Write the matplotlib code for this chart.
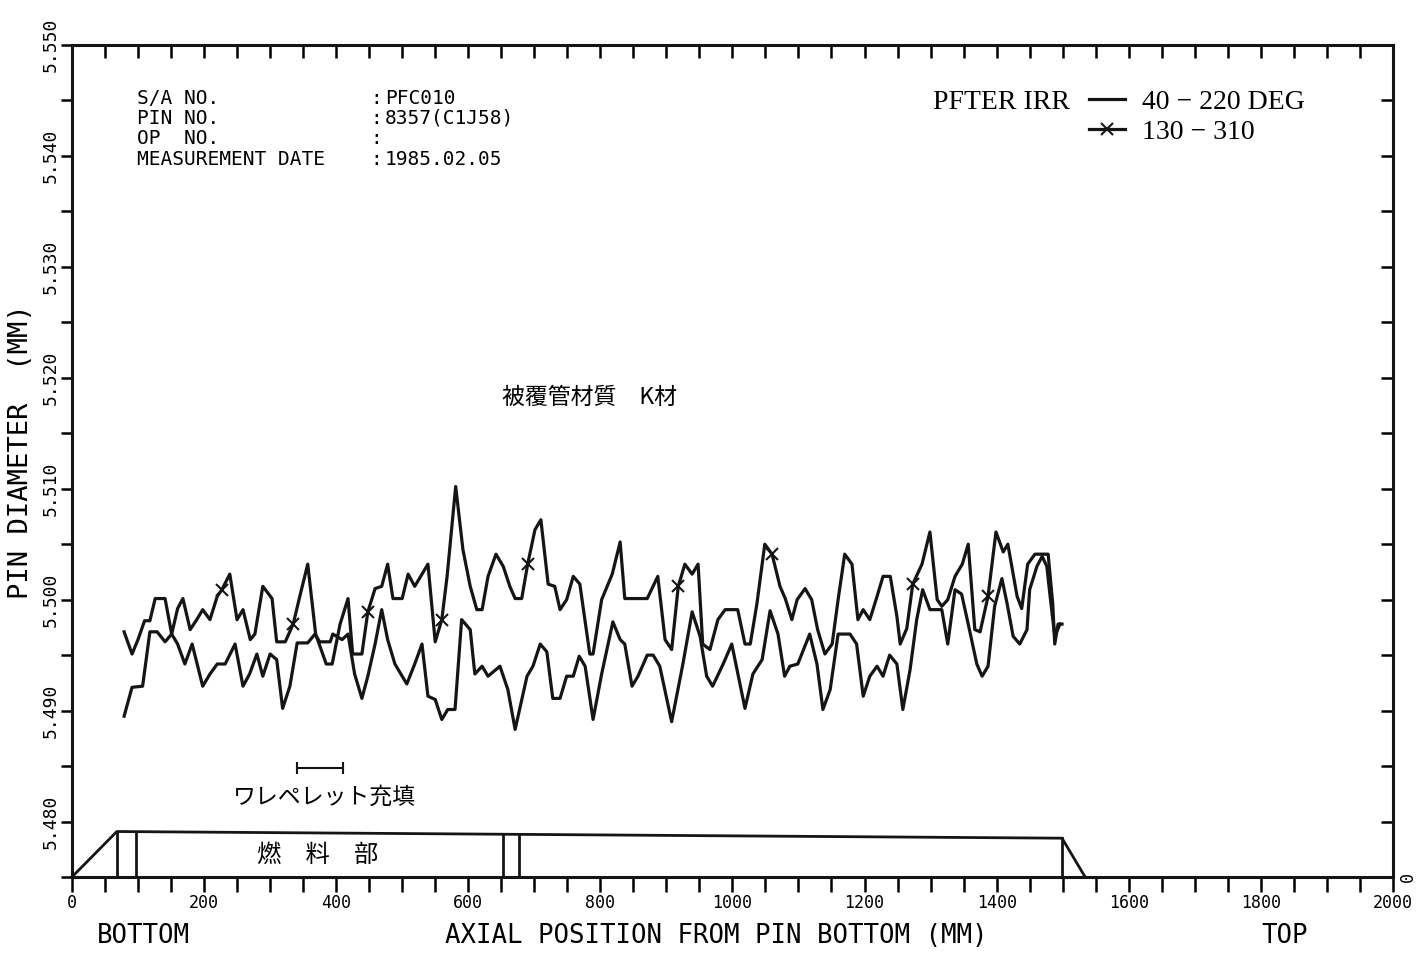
import numpy as np
import matplotlib
matplotlib.use("Agg")
import matplotlib.pyplot as plt
from matplotlib.ticker import MultipleLocator

# axial position (mm) / pin diameter (mm), 40-220 DEG trace
pos_40 = [79, 91, 107, 118, 129, 141, 151, 160, 171, 182,
          198, 209, 220, 232, 247, 259, 269, 280, 289, 300,
          310, 319, 330, 341, 357, 368, 375, 391, 395, 409,
          418, 428, 439, 448, 459, 469, 478, 489, 507, 519,
          530, 539, 550, 560, 569, 580, 590, 603, 610, 621,
          630, 648, 660, 671, 689, 698, 709, 719, 728, 739,
          749, 759, 768, 777, 789, 802, 819, 830, 837, 848,
          857, 871, 880, 890, 908, 925, 939, 951, 961, 970,
          986, 999, 1019, 1031, 1045, 1057, 1069, 1079, 1087, 1099,
          1117, 1128, 1137, 1148, 1160, 1178, 1188, 1198, 1208, 1219,
          1228, 1238, 1249, 1258, 1269, 1279, 1288, 1299, 1317, 1326,
          1337, 1347, 1357, 1370, 1378, 1387, 1397, 1408, 1416, 1425,
          1435, 1446, 1450, 1461, 1469, 1476, 1481, 1488, 1496]
dia_40 = [5.4895, 5.4921, 5.4922, 5.4971, 5.4971, 5.4962, 5.4969, 5.4960, 5.4942, 5.4960,
          5.4922, 5.4933, 5.4942, 5.4942, 5.4960, 5.4922, 5.4933, 5.4951, 5.4931, 5.4951,
          5.4946, 5.4902, 5.4922, 5.4961, 5.4961, 5.4969, 5.4962, 5.4962, 5.4969, 5.4964,
          5.4969, 5.4933, 5.4911, 5.4931, 5.4960, 5.4991, 5.4964, 5.4942, 5.4924, 5.4942,
          5.4960, 5.4913, 5.4910, 5.4892, 5.4901, 5.4901, 5.4982, 5.4973, 5.4933, 5.4940,
          5.4931, 5.4940, 5.4919, 5.4883, 5.4931, 5.4940, 5.4960, 5.4953, 5.4911, 5.4911,
          5.4931, 5.4931, 5.4949, 5.4940, 5.4892, 5.4933, 5.4980, 5.4964, 5.4960, 5.4922,
          5.4931, 5.4950, 5.4950, 5.4940, 5.4890, 5.4942, 5.4989, 5.4967, 5.4931, 5.4922,
          5.4942, 5.4960, 5.4902, 5.4933, 5.4946, 5.4990, 5.4969, 5.4931, 5.4940, 5.4942,
          5.4969, 5.4942, 5.4901, 5.4919, 5.4969, 5.4969, 5.4960, 5.4913, 5.4931, 5.4940,
          5.4931, 5.4950, 5.4942, 5.4901, 5.4937, 5.4982, 5.5009, 5.4991, 5.4991, 5.4960,
          5.5009, 5.5005, 5.4978, 5.4942, 5.4931, 5.4940, 5.4994, 5.5019, 5.4996, 5.4967,
          5.4960, 5.4973, 5.5009, 5.5030, 5.5039, 5.5030, 5.5003, 5.4967, 5.4978]

# 130-310 DEG trace (drawn with x marks)
pos_130 = [79, 91, 100, 110, 118, 126, 141, 151, 160, 168,
           179, 189, 198, 209, 220, 227, 239, 250, 259, 270,
           277, 289, 303, 310, 323, 335, 345, 357, 369, 385,
           394, 406, 418, 425, 439, 448, 459, 469, 478, 486,
           500, 509, 519, 539, 550, 560, 568, 581, 592, 603,
           613, 621, 630, 642, 653, 663, 671, 681, 690, 701,
           710, 721, 731, 739, 749, 759, 769, 784, 789, 802,
           818, 830, 837, 871, 887, 898, 908, 918, 928, 939,
           948, 955, 966, 978, 989, 1008, 1019, 1027, 1037, 1049,
           1060, 1072, 1080, 1090, 1098, 1110, 1120, 1129, 1140, 1151,
           1160, 1170, 1181, 1190, 1198, 1208, 1219, 1228, 1239, 1249,
           1254, 1264, 1273, 1287, 1299, 1310, 1317, 1326, 1337, 1348,
           1357, 1367, 1375, 1387, 1399, 1410, 1417, 1431, 1438, 1447,
           1458, 1478, 1485, 1488, 1493, 1499]
dia_130 = [5.4971, 5.4951, 5.4964, 5.4981, 5.4981, 5.5001, 5.5001, 5.4969, 5.4992, 5.5001,
           5.4973, 5.4982, 5.4991, 5.4982, 5.5003, 5.5009, 5.5023, 5.4982, 5.4991, 5.4964,
           5.4969, 5.5012, 5.5001, 5.4962, 5.4962, 5.4978, 5.5003, 5.5032, 5.4969, 5.4942,
           5.4942, 5.4978, 5.5001, 5.4951, 5.4951, 5.4989, 5.5010, 5.5012, 5.5032, 5.5001,
           5.5001, 5.5023, 5.5012, 5.5032, 5.4962, 5.4982, 5.5021, 5.5102, 5.5045, 5.5012,
           5.4991, 5.4991, 5.5021, 5.5041, 5.5030, 5.5012, 5.5001, 5.5001, 5.5032, 5.5063,
           5.5072, 5.5014, 5.5012, 5.4991, 5.5000, 5.5021, 5.5014, 5.4951, 5.4951, 5.5000,
           5.5023, 5.5052, 5.5001, 5.5001, 5.5021, 5.4964, 5.4955, 5.5012, 5.5032, 5.5023,
           5.5032, 5.4960, 5.4955, 5.4982, 5.4991, 5.4991, 5.4960, 5.4960, 5.4996, 5.5050,
           5.5041, 5.5012, 5.5001, 5.4982, 5.5000, 5.5010, 5.5000, 5.4973, 5.4951, 5.4960,
           5.5000, 5.5041, 5.5032, 5.4982, 5.4991, 5.4982, 5.5003, 5.5021, 5.5021, 5.4985,
           5.4960, 5.4974, 5.5014, 5.5032, 5.5061, 5.5000, 5.4994, 5.5000, 5.5021, 5.5032,
           5.5050, 5.4973, 5.4971, 5.5003, 5.5061, 5.5043, 5.5050, 5.5003, 5.4992, 5.5032,
           5.5041, 5.5041, 5.4996, 5.4960, 5.4978, 5.4978]
mark_pos_130 = [224, 334, 451, 560, 693, 921, 1064, 1279, 1387]

# pin outline sketch along the bottom
pin_x = [0, 68, 1499, 1534]
pin_y = [5.475, 5.4791, 5.4785, 5.475]
pin_walls = [68, 97, 653, 677, 1499]
pellet_span = [341, 410]
pellet_y = 5.4848

info_keys = ["S/A NO.", "PIN NO.", "OP  NO.", "MEASUREMENT DATE"]
info_vals = ["PFC010", "8357(C1J58)", "", "1985.02.05"]

mono = "DejaVu Sans Mono"
cjk = ["Noto Sans CJK JP", "DejaVu Sans"]
serif = "Liberation Serif"
ink = "#151515"

fig = plt.figure(figsize=(14.16, 9.61), dpi=100)
ax = fig.add_axes([0.0508, 0.0874, 0.9329, 0.8658])

l40, = ax.plot(pos_40, dia_40, color=ink, lw=2.3)
marks = [int(np.argmin(np.abs(np.array(pos_130) - m))) for m in mark_pos_130]
l130, = ax.plot(pos_130, dia_130, color=ink, lw=2.3, marker="x", ms=9, mew=1.5,
                markevery=marks)

# fuel pin sketch
ax.plot(pin_x, pin_y, color=ink, lw=2.0, clip_on=False)
for w in pin_walls:
    top = np.interp(w, pin_x[1:3], pin_y[1:3])
    ax.plot([w, w], [pin_y[0], top], color=ink, lw=2.0)
ax.text(372, 5.4770, "燃　料　部", ha="center", va="center", fontsize=17.5, family=cjk)

ax.plot(pellet_span, [pellet_y, pellet_y], color=ink, lw=1.5, marker="|", ms=9, mew=1.5)
ax.text(383, 5.4822, "ワレペレット充填", ha="center", va="center", fontsize=16.5, family=cjk)
ax.text(784, 5.5182, "被覆管材質　K材", ha="center", va="center", fontsize=16.5, family=cjk)

# header block
rows_y = [0.936, 0.912, 0.888, 0.862]
for k, v, yy in zip(info_keys, info_vals, rows_y):
    ax.text(0.049, yy, k, transform=ax.transAxes, fontsize=14, family=mono, va="center")
    ax.text(0.2256, yy, ":", transform=ax.transAxes, fontsize=14, family=mono, va="center")
    ax.text(0.237, yy, v, transform=ax.transAxes, fontsize=14, family=mono, va="center")

# legend
ax.text(0.652, 0.931, "PFTER IRR", transform=ax.transAxes, fontsize=20,
        family=serif, va="center")
ax.legend([l40, l130], ["40 − 220 DEG", "130 − 310"], loc="upper left",
          bbox_to_anchor=(0.770, 0.947), frameon=False, numpoints=1,
          prop={"family": serif, "size": 20}, handlelength=1.3,
          handletextpad=0.6, labelspacing=0.17, borderpad=0, borderaxespad=0)

ax.set_xlim(0, 2000)
ax.set_ylim(5.475, 5.550)
ax.set_xticks(np.arange(0, 2001, 200))
ax.xaxis.set_minor_locator(MultipleLocator(50))
ax.set_yticks(np.arange(5.48, 5.5501, 0.01))
ax.set_yticklabels(["%.3f" % v for v in np.arange(5.48, 5.5501, 0.01)])
ax.yaxis.set_minor_locator(MultipleLocator(0.005))
ax.tick_params(axis="x", which="both", direction="out", length=11, width=1.8,
               labelsize=12, pad=1)
ax.tick_params(axis="y", which="both", direction="out", length=8, width=1.8,
               labelsize=13, labelrotation=90, pad=1)
for lab in ax.get_xticklabels() + ax.get_yticklabels():
    lab.set_family(mono)
for lab in ax.get_yticklabels():
    lab.set_va("center")
for s in ax.spines.values():
    s.set_linewidth(2.2)
    s.set_color(ink)

top = ax.secondary_xaxis("top")
top.set_xticks(np.arange(0, 2001, 200))
top.xaxis.set_minor_locator(MultipleLocator(50))
top.tick_params(which="both", direction="in", length=9, width=1.8, labeltop=False)
right = ax.secondary_yaxis("right")
right.set_yticks(np.arange(5.48, 5.5501, 0.01))
right.yaxis.set_minor_locator(MultipleLocator(0.005))
right.tick_params(which="both", direction="in", length=9, width=1.8, labelright=False)

fig.text(0.994, 0.0874, "0", rotation=90, fontsize=12, family=mono, ha="center", va="center")
fig.text(0.015, 0.530, "PIN DIAMETER  (MM)", rotation=90, fontsize=19.5, family=mono,
         ha="center", va="center")
fig.text(0.506, 0.026, "AXIAL POSITION FROM PIN BOTTOM (MM)", fontsize=18.5, family=mono,
         ha="center", va="center")
fig.text(0.101, 0.026, "BOTTOM", fontsize=18.5, family=mono, ha="center", va="center")
fig.text(0.9075, 0.026, "TOP", fontsize=18.5, family=mono, ha="center", va="center")

plt.savefig("out.png", dpi=100)
plt.close()
